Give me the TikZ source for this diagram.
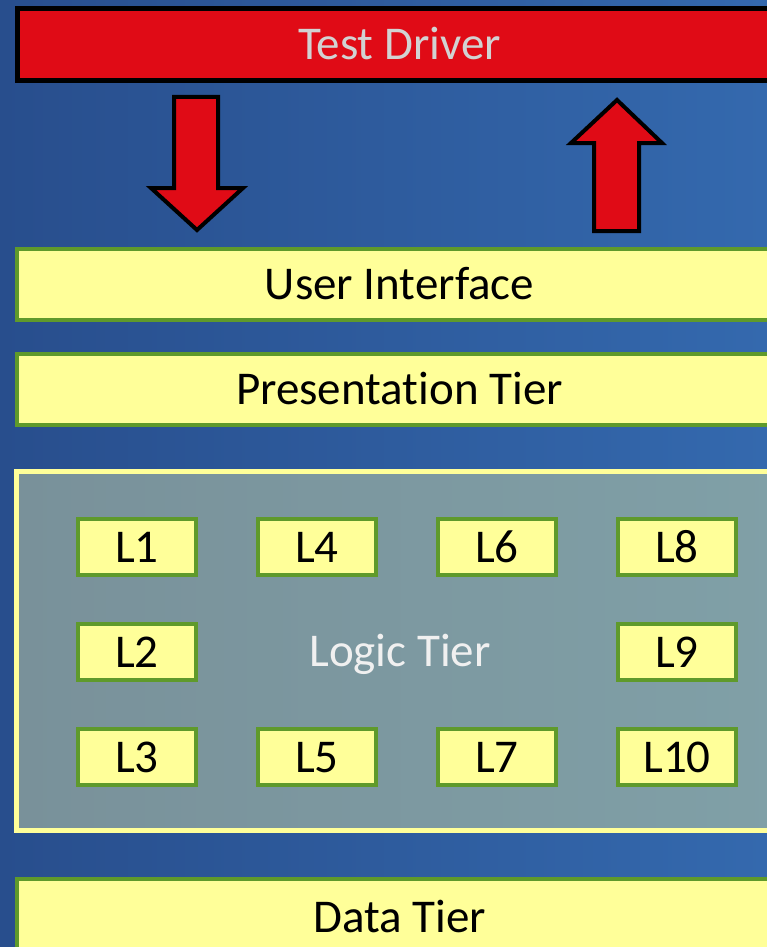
\documentclass[tikz,border=0pt]{standalone}
\usepackage{fontspec}
\setmainfont[Ligatures = NoCommon]{Carlito}
\usetikzlibrary{positioning}
\definecolor{tdred}{HTML}{E00B16}
\definecolor{tdtext}{HTML}{D2D2D2}
\definecolor{tieryellow}{HTML}{FFFF99}
\definecolor{tiergreen}{HTML}{5F9A2B}
\definecolor{bgdark}{HTML}{284E8D}
\definecolor{bglight}{HTML}{3469AE}
\definecolor{logicleft}{HTML}{79919A}
\definecolor{logicright}{HTML}{80A0A7}
\tikzset{bigfont/.style = {font = \fontsize{47}{50}\selectfont}}
\tikzset{tier/.style = {draw = tiergreen, fill = tieryellow, line width = 4.5, inner sep = 0,
                        minimum width = 765, minimum height = 71,
                        text height = 30, text depth = 0, bigfont}}
\tikzset{lbox/.style = {draw = tiergreen, fill = tieryellow, line width = 4.5, inner sep = 0,
                        minimum width = 118, minimum height = 56,
                        text height = 30, text depth = 0, bigfont}}
\tikzset{blockarrow/.style = {draw = black, fill = tdred, line width = 4, miter limit = 10}}

\begin{document}
\begin{tikzpicture}[x = 1pt, y = -1pt]
    \useasboundingbox (0, 0) rectangle (767, 947);
    \clip (0, 0) rectangle (767, 947);
    \shade [left color = bgdark, right color = bglight] (0, 0) rectangle (767, 947);

    % driver and its two arrows
    \node at (399.5, 44.5) [draw = black, fill = tdred, line width = 5, inner sep = 0,
                            minimum width = 764, minimum height = 72,
                            text height = 30, text depth = 0, text = tdtext, bigfont] (driver) {Test Driver};
    \draw [blockarrow] (174, 97) -- (218, 97) -- (218, 188) -- (243, 188) -- (197, 230)
                       -- (151, 188) -- (174, 188) -- cycle;
    \draw [blockarrow] (594, 231) -- (639, 231) -- (639, 143) -- (662, 143) -- (617, 100)
                       -- (571, 143) -- (594, 143) -- cycle;

    \node at (399.5, 284.5) [tier] (ui) {User Interface};
    \node at (399.5, 389.5) [tier] (presentation) {Presentation Tier};

    % logic tier with its units
    \node at (400, 651) [draw = tieryellow, line width = 5, left color = logicleft, right color = logicright,
                         inner sep = 0, minimum width = 767, minimum height = 359,
                         text height = 30, text depth = 0, text = white!94!black, bigfont] (logic) {Logic Tier};
    \foreach \name/\col/\row in {L1/0/0, L2/0/1, L3/0/2, L4/1/0, L5/1/2,
                                 L6/2/0, L7/2/2, L8/3/0, L9/3/1, L10/3/2}
      \node at ({137 + 180*\col}, {547 + 105*\row}) [lbox] (\name) {\name};

    \node at (399.5, 917) [tier, minimum height = 76] (data) {Data Tier};
\end{tikzpicture}
\end{document}
